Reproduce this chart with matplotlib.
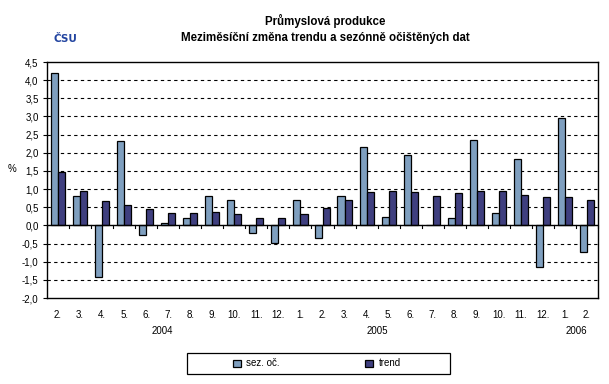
import matplotlib
matplotlib.use("Agg")
import matplotlib.pyplot as plt
from matplotlib.patches import Rectangle
import numpy as np

plt.rcParams['font.family'] = ['Liberation Sans', 'DejaVu Sans']

months = ["2.", "3.", "4.", "5.", "6.", "7.", "8.", "9.", "10.", "11.", "12.",
          "1.", "2.", "3.", "4.", "5.", "6.", "7.", "8.", "9.", "10.", "11.", "12.",
          "1.", "2."]
years = ["2004", "2005", "2006"]
year_pos = [4.75, 14.5, 23.5]

sez = [4.20, 0.81, -1.43, 2.32, -0.26, 0.07, 0.21, 0.80, 0.71, -0.20, -0.48,
       0.71, -0.34, 0.82, 2.15, 0.24, 1.93, 0.00, 0.19, 2.34, 0.35, 1.82, -1.15,
       2.95, -0.73]
trend = [1.46, 0.94, 0.66, 0.57, 0.46, 0.35, 0.35, 0.38, 0.32, 0.21, 0.21,
         0.30, 0.47, 0.71, 0.91, 0.94, 0.91, 0.82, 0.88, 0.96, 0.96, 0.85, 0.77,
         0.77, 0.69]
yticks = np.arange(-2.0, 4.51, 0.5)

W, H = 609, 384
fig = plt.figure(figsize=(W/100, H/100), dpi=100)
ax = fig.add_axes([47/W, 1-298/H, (598-47)/W, (298-62)/H])

x = np.arange(len(months))
w = 0.32
c1 = '#7F9FBF'
c2 = '#3F3F7F'
ax.bar(x - w/2, sez, w, color=c1, edgecolor='black', linewidth=0.9, label='sez. oč.', zorder=3)
ax.bar(x + w/2, trend, w, color=c2, edgecolor='black', linewidth=0.9, label='trend', zorder=3)

ax.set_xlim(-0.5, len(months) - 0.5)
ax.set_ylim(-2.0, 4.5)
ax.set_yticks(yticks)
ax.set_yticklabels([f"{v:.1f}".replace('.', ',') for v in yticks], fontsize=7)
for v in yticks:
    if -2.0 < v < 4.5 and abs(v) > 1e-9:
        ax.axhline(v, color='black', linestyle=(0, (3, 3)), linewidth=0.8, zorder=1)
ax.axhline(0, color='black', linewidth=1.0, zorder=4)
# category boundary ticks on zero axis
for b in np.arange(-0.5, len(months) - 0.4, 1.0):
    ax.plot([b, b], [0, -0.08], color='black', linewidth=0.8, zorder=4, clip_on=False)

ax.set_xticks(x)
ax.set_xticklabels(months, fontsize=7)
ax.tick_params(axis='x', length=0, pad=9)
ax.tick_params(axis='y', length=3, width=0.8, pad=3)
for s in ax.spines.values():
    s.set_linewidth(1.0)
for xp, yr in zip(year_pos, years):
    ax.text(xp, -0.14, yr, transform=ax.get_xaxis_transform(), ha='center', va='center', fontsize=7)

fig.text(12/W, 1-169/H, '%', fontsize=7, ha='center', va='center')

fig.text(325/W, 1-20.5/H, 'Průmyslová produkce', fontsize=8.3, fontweight='bold', ha='center', va='center')
fig.text(325/W, 1-38.5/H, 'Meziměsíční změna trendu a sezónně očištěných dat', fontsize=8.3,
         fontweight='bold', ha='center', va='center')
fig.text(65/W, 1-39/H, 'ČSU', fontsize=7.5, fontweight='bold', color='#2244A0',
         family='DejaVu Sans', ha='center', va='center')

# legend box
fig.patches.append(Rectangle((187/W, 1-374/H), (450-187)/W, (374-353)/H, transform=fig.transFigure,
                             facecolor='white', edgecolor='black', linewidth=0.9, zorder=0))
leg = fig.legend(loc='center', bbox_to_anchor=(317/W, 1-363.5/H), ncol=2, fontsize=7,
                 frameon=False, handlelength=0.75, handleheight=0.75, handletextpad=0.6,
                 columnspacing=8.8, borderpad=0.2)

fig.savefig('out.png', dpi=100)
